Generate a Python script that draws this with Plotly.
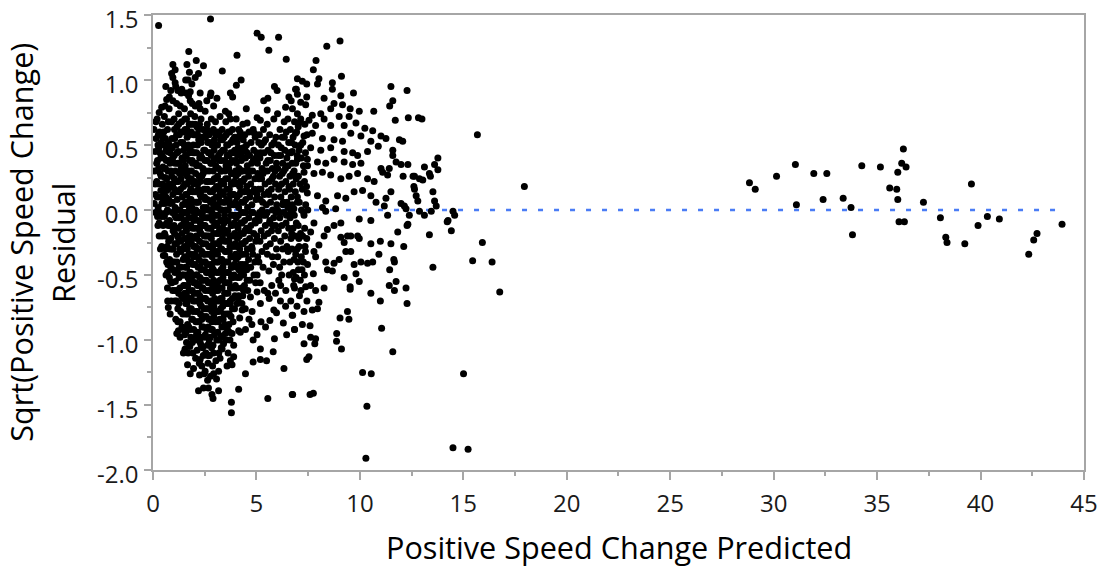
import plotly.graph_objects as go

# ---------------- data: (predicted, residual) pairs ----------------
core_left = [
    (0.05,0.62),(0.10,0.45),(0.08,0.30),(0.12,0.12),(0.06,0.05),(0.15,0.55),(0.20,0.70),(0.22,0.38),(0.18,0.22),(0.25,0.02),
    (0.30,-0.10),(0.28,0.48),(0.32,0.60),(0.35,0.28),(0.38,0.15),(0.40,-0.05),(0.42,0.42),(0.45,0.66),(0.48,0.33),(0.50,0.08),
    (0.44,-0.20),(0.36,-0.30),(0.50,-0.35),(0.30,0.75),(0.14,0.68),(0.26,0.58),(0.40,0.52),(0.47,0.20),(0.33,-0.02),(0.20,0.10),
    (0.10,0.20),(0.27,0.32),(0.38,0.40),(0.49,-0.12),(0.43,0.05),(0.22,-0.05),
    (0.55,0.72),(0.60,0.55),(0.52,0.40),(0.58,0.25),(0.62,0.10),(0.55,-0.05),(0.60,-0.20),(0.57,-0.35),(0.63,-0.50),(0.66,0.85),
    (0.70,0.62),(0.68,0.45),(0.72,0.30),(0.66,0.15),(0.70,0.00),(0.74,-0.12),(0.68,-0.28),(0.72,-0.42),(0.70,-0.60),(0.78,0.78),
    (0.80,0.50),(0.82,0.36),(0.78,0.20),(0.84,0.05),(0.80,-0.08),(0.86,-0.22),(0.80,-0.38),(0.85,-0.55),(0.88,-0.70),(0.90,0.68),
    (0.92,0.55),(0.95,0.40),(0.90,0.26),(0.96,0.12),(0.93,-0.02),(0.97,-0.16),(0.92,-0.30),(0.98,-0.46),(0.95,-0.62),(0.52,0.60),
    (0.64,0.38),(0.76,0.08),(0.88,0.18),(0.54,0.18),(0.66,-0.10),(0.74,0.68),(0.86,0.92),(0.90,1.05),(0.62,0.95),(0.96,0.84),
    (0.58,0.05),(0.82,-0.30),(0.94,-0.40),(0.70,-0.48),(0.60,0.32),
    (1.02,0.70),(1.05,0.55),(1.03,0.42),(1.08,0.30),(1.04,0.16),(1.07,0.02),(1.02,-0.12),(1.06,-0.26),(1.03,-0.40),(1.08,-0.55),
    (1.05,-0.70),(1.10,-0.84),(1.14,0.82),(1.16,0.64),(1.12,0.50),(1.18,0.36),(1.13,0.22),(1.17,0.08),(1.12,-0.06),(1.18,-0.20),
    (1.14,-0.34),(1.19,-0.48),(1.15,-0.62),(1.20,-0.76),(1.24,0.74),(1.27,0.58),(1.22,0.45),(1.28,0.28),(1.25,0.14),(1.30,0.00),
    (1.23,-0.14),(1.29,-0.30),(1.26,-0.44),(1.30,-0.60),(1.25,-0.72),(1.31,-0.86),(1.36,0.90),(1.38,0.68),(1.34,0.52),(1.40,0.40),
    (1.35,0.24),(1.42,0.10),(1.37,-0.04),(1.41,-0.18),(1.35,-0.32),(1.43,-0.50),(1.38,-0.66),(1.44,-0.80),(1.46,0.60),(1.48,0.46),
    (1.47,0.18),(1.49,-0.10),(1.46,-0.38),(1.48,-0.58),(1.47,-0.92),(1.10,0.95),(1.20,0.92),(1.32,0.80),(1.44,0.30),(1.15,-0.95),
    (1.52,0.78),(1.55,0.62),(1.51,0.50),(1.56,0.34),(1.53,0.20),(1.57,0.06),(1.52,-0.08),(1.56,-0.22),(1.53,-0.36),(1.58,-0.50),
    (1.54,-0.64),(1.57,-0.80),(1.53,-0.96),(1.62,0.70),(1.65,0.56),(1.61,0.42),(1.66,0.26),(1.63,0.12),(1.67,-0.02),(1.62,-0.16),
    (1.66,-0.30),(1.63,-0.44),(1.68,-0.58),(1.64,-0.72),(1.67,-0.88),(1.62,-1.02),(1.72,0.88),(1.75,0.66),(1.71,0.50),(1.76,0.38),
    (1.73,0.22),(1.77,0.08),(1.72,-0.06),(1.76,-0.20),(1.73,-0.34),(1.78,-0.48),(1.74,-0.62),(1.77,-0.76),(1.73,-0.90),(1.78,-1.05),
    (1.82,0.74),(1.85,0.60),(1.81,0.46),(1.86,0.30),(1.83,0.16),(1.87,0.02),(1.82,-0.12),(1.86,-0.26),(1.83,-0.40),(1.88,-0.54),
    (1.84,-0.68),(1.87,-0.84),(1.83,-0.98),(1.92,0.66),(1.95,0.50),(1.91,0.36),(1.96,0.20),(1.93,0.06),(1.97,-0.08),(1.92,-0.22),
    (1.96,-0.36),(1.93,-0.50),(1.98,-0.64),(1.94,-0.78),(1.97,-0.92),(1.93,-1.10),(1.60,0.90),(1.58,1.00),(1.90,0.82),(1.70,1.00),
    (1.55,-1.08),
    (2.02,0.72),(2.05,0.58),(2.01,0.44),(2.06,0.28),(2.03,0.14),(2.07,0.00),(2.02,-0.14),(2.06,-0.28),(2.03,-0.42),(2.08,-0.56),
    (2.04,-0.70),(2.07,-0.86),(2.03,-1.00),(2.06,-1.14),(2.12,0.64),(2.15,0.50),(2.11,0.34),(2.16,0.20),(2.13,0.06),(2.17,-0.08),
    (2.12,-0.22),(2.16,-0.36),(2.13,-0.50),(2.18,-0.64),(2.14,-0.78),(2.17,-0.94),(2.13,-1.08),(2.22,0.82),(2.25,0.66),(2.21,0.54),
    (2.26,0.40),(2.23,0.26),(2.27,0.12),(2.22,-0.02),(2.26,-0.16),(2.23,-0.30),(2.28,-0.44),(2.24,-0.58),(2.27,-0.72),(2.23,-0.86),
    (2.28,-1.02),(2.24,-1.18),(2.32,0.70),(2.35,0.56),(2.31,0.42),(2.36,0.26),(2.33,0.10),(2.37,-0.04),(2.32,-0.18),(2.36,-0.32),
    (2.33,-0.46),(2.38,-0.60),(2.34,-0.74),(2.37,-0.90),(2.33,-1.04),(2.36,-1.20),(2.42,0.62),(2.45,0.46),(2.41,0.32),(2.46,0.16),
    (2.43,0.02),(2.47,-0.12),(2.42,-0.26),(2.46,-0.40),(2.43,-0.54),(2.48,-0.68),(2.44,-0.82),(2.47,-0.98),(2.43,-1.12),(2.48,-1.26),
    (2.52,0.76),(2.55,0.60),(2.51,0.46),(2.56,0.30),(2.53,0.16),(2.57,0.02),(2.52,-0.12),(2.56,-0.26),(2.53,-0.40),(2.58,-0.54),
    (2.54,-0.68),(2.57,-0.82),(2.53,-0.96),(2.56,-1.10),(2.52,-1.24),(2.62,0.66),(2.65,0.52),(2.61,0.38),(2.66,0.22),(2.63,0.08),
    (2.67,-0.06),(2.62,-0.20),(2.66,-0.34),(2.63,-0.48),(2.68,-0.62),(2.64,-0.76),(2.67,-0.90),(2.63,-1.04),(2.66,-1.18),(2.72,0.58),
    (2.75,0.44),(2.71,0.30),(2.76,0.14),(2.73,0.00),(2.77,-0.14),(2.72,-0.28),(2.76,-0.42),(2.73,-0.56),(2.78,-0.70),(2.74,-0.84),
    (2.77,-0.98),(2.73,-1.12),(2.78,-1.28),(2.82,0.70),(2.85,0.50),(2.81,0.36),(2.86,0.22),(2.83,0.06),(2.87,-0.08),(2.82,-0.22),
    (2.86,-0.36),(2.83,-0.50),(2.88,-0.64),(2.84,-0.78),(2.87,-0.92),(2.83,-1.06),(2.88,-1.20),(2.92,0.62),(2.95,0.46),(2.91,0.30),
    (2.96,0.16),(2.93,0.02),(2.97,-0.12),(2.92,-0.26),(2.96,-0.40),(2.93,-0.54),(2.98,-0.68),(2.94,-0.82),(2.97,-0.96),(2.93,-1.10),
    (2.60,0.84),(2.80,0.90),
    (3.02,0.68),(3.06,0.50),(3.03,0.34),(3.07,0.18),(3.02,0.04),(3.06,-0.10),(3.03,-0.26),(3.08,-0.40),(3.04,-0.56),(3.07,-0.70),
    (3.03,-0.86),(3.08,-1.00),(3.04,-1.16),(3.07,-1.30),(3.14,0.60),(3.17,0.42),(3.12,0.26),(3.18,0.10),(3.13,-0.04),(3.17,-0.18),
    (3.12,-0.34),(3.18,-0.48),(3.14,-0.62),(3.17,-0.78),(3.13,-0.94),(3.18,-1.10),(3.24,0.72),(3.27,0.54),(3.22,0.38),(3.28,0.22),
    (3.23,0.06),(3.27,-0.08),(3.22,-0.24),(3.28,-0.38),(3.24,-0.54),(3.27,-0.68),(3.23,-0.84),(3.28,-0.98),(3.24,-1.14),(3.34,0.62),
    (3.37,0.46),(3.32,0.30),(3.38,0.14),(3.33,0.00),(3.37,-0.14),(3.32,-0.30),(3.38,-0.44),(3.34,-0.60),(3.37,-0.74),(3.33,-0.90),
    (3.44,0.56),(3.47,0.38),(3.42,0.20),(3.48,0.06),(3.43,-0.10),(3.47,-0.24),(3.42,-0.40),(3.48,-0.56),(3.44,-0.72),(3.47,-0.88),
    (3.52,0.68),(3.56,0.50),(3.53,0.34),(3.57,0.16),(3.52,0.00),(3.56,-0.16),(3.53,-0.32),(3.58,-0.48),(3.54,-0.64),(3.57,-0.80),
    (3.53,-1.00),(3.58,-1.20),(3.64,0.60),(3.67,0.42),(3.62,0.24),(3.68,0.08),(3.63,-0.08),(3.67,-0.24),(3.62,-0.40),(3.68,-0.56),
    (3.64,-0.72),(3.67,-0.88),(3.63,-1.10),(3.74,0.70),(3.77,0.52),(3.72,0.36),(3.78,0.20),(3.73,0.04),(3.77,-0.12),(3.72,-0.28),
    (3.78,-0.44),(3.74,-0.60),(3.77,-0.82),(3.72,-1.00),(3.84,0.62),(3.87,0.44),(3.82,0.28),(3.88,0.12),(3.83,-0.04),(3.87,-0.20),
    (3.82,-0.36),(3.88,-0.52),(3.84,-0.68),(3.87,-0.86),(3.94,0.56),(3.97,0.38),(3.92,0.22),(3.98,0.06),(3.93,-0.10),(3.97,-0.26),
    (3.92,-0.42),(3.98,-0.58),(3.94,-0.76),
]

core_fill = [
    (0.24,0.50),(0.34,0.44),(0.46,0.56),(0.28,0.20),(0.40,0.26),(0.18,0.36),(0.34,0.10),(0.46,-0.04),(0.30,-0.20),(0.42,-0.28),
    (0.12,-0.02),(0.24,-0.12),
    (0.53,0.50),(0.63,0.46),(0.73,0.52),(0.83,0.44),(0.93,0.48),(0.56,0.32),(0.66,0.24),(0.76,0.38),(0.86,0.30),(0.96,0.20),
    (0.53,0.12),(0.63,-0.02),(0.73,0.16),(0.83,-0.12),(0.93,0.06),(0.56,-0.18),(0.66,-0.40),(0.76,-0.24),(0.86,-0.44),(0.96,-0.30),
    (0.61,-0.30),(0.79,-0.52),(0.91,-0.56),(0.71,-0.70),
    (1.04,0.62),(1.14,0.58),(1.24,0.66),(1.34,0.60),(1.44,0.52),(1.06,0.36),(1.16,0.44),(1.26,0.36),(1.36,0.32),(1.46,0.38),
    (1.03,0.24),(1.13,0.14),(1.23,0.22),(1.33,0.16),(1.43,0.04),(1.06,-0.04),(1.16,0.00),(1.26,-0.06),(1.36,-0.12),(1.46,-0.02),
    (1.04,-0.18),(1.14,-0.26),(1.24,-0.22),(1.34,-0.24),(1.44,-0.30),(1.06,-0.48),(1.16,-0.40),(1.26,-0.52),(1.36,-0.44),(1.46,-0.50),
    (1.04,-0.62),(1.14,-0.70),(1.24,-0.64),(1.34,-0.78),(1.44,-0.68),(1.20,-0.86),(1.40,-0.90),
    (1.54,0.70),(1.63,0.62),(1.74,0.58),(1.81,0.66),(1.96,0.58),(1.57,0.42),(1.69,0.48),(1.77,0.44),(1.89,0.38),(1.94,0.44),
    (1.51,0.28),(1.64,0.20),(1.71,0.30),(1.85,0.24),(1.92,0.14),(1.58,0.12),(1.66,0.04),(1.79,0.14),(1.84,0.08),(1.99,-0.02),
    (1.55,-0.02),(1.61,-0.10),(1.75,0.00),(1.88,-0.06),(1.91,-0.14),(1.59,-0.14),(1.68,-0.24),(1.71,-0.12),(1.83,-0.20),(1.97,-0.28),
    (1.52,-0.28),(1.65,-0.38),(1.78,-0.26),(1.86,-0.34),(1.93,-0.42),(1.56,-0.44),(1.69,-0.52),(1.74,-0.40),(1.81,-0.48),(1.98,-0.56),
    (1.53,-0.58),(1.62,-0.66),(1.76,-0.54),(1.89,-0.62),(1.95,-0.70),(1.58,-0.72),(1.67,-0.80),(1.72,-0.68),(1.85,-0.76),(1.91,-0.84),
    (1.60,-0.94),(1.80,-0.92),(1.70,-1.10),(1.90,-1.02),
    (2.04,0.66),(2.15,0.58),(2.21,0.62),(2.33,0.52),(2.46,0.56),(2.07,0.36),(2.11,0.44),(2.24,0.34),(2.37,0.40),(2.42,0.28),
    (2.02,0.22),(2.19,0.16),(2.28,0.22),(2.31,0.14),(2.49,0.10),(2.06,0.06),(2.14,-0.02),(2.20,0.06),(2.39,-0.02),(2.44,-0.06),
    (2.01,-0.06),(2.17,-0.14),(2.29,-0.10),(2.35,-0.12),(2.48,-0.20),(2.09,-0.20),(2.12,-0.30),(2.25,-0.24),(2.40,-0.26),(2.45,-0.34),
    (2.03,-0.34),(2.18,-0.44),(2.22,-0.38),(2.34,-0.40),(2.49,-0.46),(2.08,-0.50),(2.14,-0.58),(2.27,-0.52),(2.38,-0.54),(2.41,-0.60),
    (2.01,-0.64),(2.19,-0.70),(2.26,-0.66),(2.32,-0.68),(2.47,-0.76),(2.09,-0.78),(2.15,-0.86),(2.29,-0.80),(2.36,-0.84),(2.44,-0.90),
    (2.10,-0.96),(2.20,-1.00),(2.31,-0.98),(2.40,-1.06),
    (2.54,0.56),(2.61,0.62),(2.74,0.52),(2.86,0.60),(2.97,0.54),(2.51,0.38),(2.68,0.44),(2.79,0.36),(2.82,0.42),(2.94,0.38),
    (2.57,0.22),(2.63,0.16),(2.71,0.22),(2.88,0.14),(2.96,0.24),(2.52,0.08),(2.66,0.00),(2.78,0.06),(2.84,-0.02),(2.91,0.08),
    (2.59,-0.06),(2.64,-0.14),(2.76,-0.06),(2.81,-0.14),(2.98,-0.04),(2.55,-0.20),(2.69,-0.28),(2.72,-0.20),(2.89,-0.30),(2.93,-0.18),
    (2.51,-0.34),(2.62,-0.42),(2.77,-0.34),(2.85,-0.44),(2.99,-0.32),(2.58,-0.48),(2.67,-0.56),(2.73,-0.48),(2.88,-0.58),(2.92,-0.46),
    (2.53,-0.62),(2.64,-0.70),(2.79,-0.62),(2.82,-0.72),(2.97,-0.60),(2.56,-0.76),(2.69,-0.84),(2.75,-0.76),(2.86,-0.86),(2.94,-0.74),
    (2.60,-0.92),(2.71,-1.00),(2.80,-0.92),(2.90,-1.04),(2.65,-1.12),
    (3.04,0.58),(3.12,0.50),(3.21,0.58),(3.36,0.54),(3.45,0.46),(3.09,0.40),(3.16,0.32),(3.26,0.44),(3.31,0.38),(3.49,0.30),
    (3.01,0.24),(3.19,0.18),(3.29,0.30),(3.35,0.22),(3.41,0.12),(3.06,0.10),(3.14,0.02),(3.24,0.14),(3.39,0.06),(3.46,-0.04),
    (3.03,-0.04),(3.11,-0.12),(3.28,0.00),(3.31,-0.08),(3.44,-0.18),(3.08,-0.18),(3.19,-0.26),(3.21,-0.16),(3.36,-0.22),(3.49,-0.32),
    (3.02,-0.32),(3.15,-0.40),(3.26,-0.30),(3.33,-0.38),(3.41,-0.48),(3.07,-0.48),(3.12,-0.56),(3.29,-0.46),(3.38,-0.52),(3.46,-0.64),
    (3.04,-0.62),(3.18,-0.70),(3.23,-0.60),(3.34,-0.68),(3.43,-0.80),(3.09,-0.78),(3.16,-0.86),(3.27,-0.76),(3.39,-0.84),(3.20,-1.00),
    (3.30,-1.06),
    (3.54,0.58),(3.62,0.50),(3.71,0.60),(3.86,0.54),(3.95,0.46),(3.59,0.42),(3.66,0.32),(3.76,0.44),(3.81,0.38),(3.99,0.30),
    (3.51,0.24),(3.69,0.16),(3.79,0.28),(3.85,0.20),(3.91,0.12),(3.56,0.08),(3.64,0.00),(3.74,0.12),(3.89,0.04),(3.96,-0.04),
    (3.53,-0.08),(3.61,-0.16),(3.78,-0.04),(3.81,-0.12),(3.94,-0.18),(3.58,-0.24),(3.69,-0.32),(3.71,-0.20),(3.86,-0.28),(3.99,-0.34),
    (3.52,-0.40),(3.65,-0.48),(3.76,-0.36),(3.83,-0.44),(3.91,-0.50),(3.57,-0.56),(3.62,-0.64),(3.79,-0.52),(3.88,-0.60),(3.96,-0.66),
    (3.54,-0.72),(3.68,-0.80),(3.73,-0.70),(3.84,-0.76),(3.60,-0.92),(3.70,-0.94),
    (4.04,0.56),(4.12,0.48),(4.21,0.60),(4.36,0.54),(4.45,0.46),(4.09,0.42),(4.16,0.32),(4.26,0.44),(4.31,0.40),(4.49,0.30),
    (4.01,0.26),(4.19,0.18),(4.29,0.30),(4.35,0.22),(4.41,0.14),(4.06,0.10),(4.14,0.02),(4.24,0.14),(4.39,0.06),(4.46,-0.02),
    (4.03,-0.06),(4.11,-0.14),(4.28,-0.02),(4.31,-0.10),(4.44,-0.16),(4.08,-0.22),(4.19,-0.30),(4.21,-0.18),(4.36,-0.26),(4.49,-0.34),
    (4.02,-0.38),(4.15,-0.46),(4.26,-0.34),(4.33,-0.42),(4.41,-0.46),(4.07,-0.52),(4.24,-0.50),(4.38,-0.62),(4.12,-0.68),(4.30,-0.72),
    (4.55,0.44),(4.70,0.30),(4.85,0.38),(4.60,0.14),(4.75,-0.02),(4.90,0.16),(4.65,-0.16),(4.80,-0.30),(4.95,-0.10),(5.05,0.36),
    (5.20,0.44),(5.35,0.52),(5.10,0.16),(5.25,0.24),(5.40,0.30),(5.15,-0.02),(5.30,0.06),(5.45,-0.04),(5.55,0.38),(5.70,0.44),
    (5.85,0.52),(5.60,0.12),(5.75,0.24),(5.90,0.30),(5.65,-0.08),(5.80,-0.12),(5.95,-0.02),(6.05,0.42),(6.20,0.48),(6.35,0.56),
    (6.10,0.18),(6.25,0.28),(6.40,0.32),(6.15,-0.02),(6.30,0.06),(6.45,-0.04),(6.55,0.44),(6.70,0.52),(6.60,0.16),(6.75,0.28),
    (6.65,-0.02),(6.90,0.36),
]

core_mid = [
    (4.02,0.70),(4.06,0.52),(4.03,0.36),(4.07,0.20),(4.02,0.04),(4.06,-0.12),(4.03,-0.28),(4.08,-0.44),(4.04,-0.60),(4.07,-0.72),
    (4.14,0.62),(4.17,0.44),(4.12,0.28),(4.18,0.12),(4.13,-0.04),(4.17,-0.20),(4.12,-0.36),(4.18,-0.52),(4.14,-0.66),(4.24,0.56),
    (4.27,0.38),(4.22,0.22),(4.28,0.06),(4.23,-0.10),(4.27,-0.26),(4.22,-0.42),(4.28,-0.60),(4.34,0.66),(4.37,0.48),(4.32,0.30),
    (4.38,0.14),(4.33,-0.02),(4.37,-0.18),(4.32,-0.34),(4.38,-0.50),(4.34,-0.66),(4.44,0.58),(4.47,0.40),(4.42,0.24),(4.48,0.08),
    (4.43,-0.08),(4.47,-0.24),(4.42,-0.58),(4.46,-0.76),
    (4.52,0.50),(4.56,0.34),(4.53,0.18),(4.57,0.02),(4.52,-0.14),(4.56,-0.30),(4.53,-0.46),(4.58,-0.62),(4.64,0.60),(4.67,0.42),
    (4.62,0.26),(4.68,0.10),(4.63,-0.06),(4.67,-0.22),(4.62,-0.38),(4.68,-0.54),(4.64,-0.84),(4.74,0.52),(4.77,0.36),(4.72,0.20),
    (4.78,0.04),(4.73,-0.12),(4.77,-0.28),(4.72,-0.44),(4.78,-0.88),(4.84,0.62),(4.87,0.46),(4.82,0.30),(4.88,0.14),(4.83,-0.02),
    (4.87,-0.18),(4.82,-0.34),(4.88,-0.50),(4.94,0.56),(4.97,0.40),(4.92,0.24),(4.98,0.08),(4.93,-0.08),(4.97,-0.24),(4.92,-0.40),
    (4.96,-0.56),
    (5.02,0.44),(5.06,0.28),(5.03,0.12),(5.07,-0.04),(5.02,-0.20),(5.06,-0.36),(5.03,-0.50),(5.14,0.58),(5.17,0.40),(5.12,0.24),
    (5.18,0.08),(5.13,-0.08),(5.17,-0.24),(5.12,-0.40),(5.18,-0.56),(5.24,0.50),(5.27,0.32),(5.22,0.16),(5.28,0.00),(5.23,-0.16),
    (5.27,-0.32),(5.22,-0.86),(5.34,0.62),(5.37,0.44),(5.32,0.28),(5.38,0.12),(5.33,-0.04),(5.37,-0.20),(5.32,-0.44),(5.38,-0.62),
    (5.44,0.54),(5.47,0.36),(5.42,0.20),(5.48,0.04),(5.43,-0.12),(5.47,-0.28),(5.44,-0.90),
    (5.52,0.66),(5.56,0.46),(5.53,0.30),(5.57,0.14),(5.52,-0.02),(5.56,-0.18),(5.53,-0.34),(5.64,0.58),(5.67,0.38),(5.62,0.22),
    (5.68,0.06),(5.63,-0.10),(5.67,-0.26),(5.62,-0.68),(5.74,0.50),(5.77,0.32),(5.72,0.16),(5.78,0.00),(5.73,-0.16),(5.77,-0.36),
    (5.74,-0.58),(5.84,0.70),(5.87,0.42),(5.82,0.26),(5.88,0.10),(5.83,-0.06),(5.87,-0.22),(5.82,-0.42),(5.94,0.56),(5.97,0.36),
    (5.92,0.20),(5.98,0.04),(5.93,-0.12),(5.97,-0.30),(5.92,-0.64),
    (6.02,0.74),(6.06,0.50),(6.03,0.32),(6.07,0.16),(6.02,0.00),(6.06,-0.16),(6.03,-0.36),(6.14,0.62),(6.17,0.42),(6.12,0.26),
    (6.18,0.10),(6.13,-0.06),(6.17,-0.24),(6.12,-0.44),(6.16,-0.70),(6.24,0.56),(6.27,0.36),(6.22,0.20),(6.28,0.04),(6.23,-0.12),
    (6.27,-0.30),(6.22,-0.50),(6.34,0.68),(6.37,0.46),(6.32,0.30),(6.38,0.14),(6.33,-0.02),(6.37,-0.20),(6.32,-0.40),(6.44,0.60),
    (6.47,0.40),(6.42,0.22),(6.48,0.06),(6.43,-0.10),(6.47,-0.28),(6.42,-0.62),(6.46,-0.96),
    (6.52,0.70),(6.56,0.52),(6.53,0.34),(6.57,0.18),(6.52,0.02),(6.56,-0.14),(6.53,-0.32),(6.58,-0.50),(6.64,0.62),(6.67,0.44),
    (6.62,0.26),(6.68,0.10),(6.63,-0.06),(6.67,-0.22),(6.62,-0.40),(6.66,-0.70),(6.74,0.78),(6.77,0.56),(6.72,0.36),(6.78,0.20),
    (6.73,0.04),(6.77,-0.14),(6.72,-0.30),(6.78,-0.48),(6.84,0.68),(6.87,0.50),(6.82,0.30),(6.88,0.14),(6.83,-0.04),(6.87,-0.20),
    (6.82,-0.38),(6.94,0.60),(6.97,0.42),(6.92,0.24),(6.98,0.06),(6.93,-0.10),(6.97,-0.30),(6.92,-0.52),(6.96,-0.74),
    (7.02,0.64),(7.06,0.46),(7.03,0.26),(7.07,0.06),(7.02,-0.12),(7.06,-0.28),(7.03,-0.46),(7.08,-0.66),(7.14,0.70),(7.17,0.40),
    (7.12,0.20),(7.18,0.00),(7.13,-0.18),(7.17,-0.36),(7.12,-0.54),(7.24,0.52),(7.27,0.34),(7.22,0.16),(7.28,-0.02),(7.23,-0.20),
    (7.27,-0.40),(7.22,-0.88),(7.34,0.66),(7.37,0.44),(7.32,0.22),(7.38,0.04),(7.33,-0.14),(7.37,-0.32),(7.32,-0.50),(7.44,0.58),
    (7.47,0.34),(7.42,0.18),(7.48,0.00),(7.43,-0.22),(7.47,-0.42),(7.44,-0.70),
]

upper_fringe = [
    (0.27,1.42),(2.78,1.47),(5.03,1.36),(5.23,1.33),(6.07,1.33),(5.60,1.23),(6.44,1.16),(1.73,1.22),(4.06,1.19),(0.96,1.12),
    (1.64,1.12),(2.09,1.15),(2.44,1.11),(1.07,1.08),(1.76,1.06),(2.20,1.05),(3.35,1.07),(0.96,1.02),(1.07,0.98),(1.39,0.93),
    (1.88,0.97),(2.04,1.02),(4.26,1.00),(4.03,0.96),(3.74,0.90),(3.85,0.87),(5.87,0.95),(6.00,0.92),(6.98,1.01),(6.93,0.93),
    (1.80,0.91),(2.28,0.90),(0.79,0.87),(0.58,0.80),(0.42,0.79),(2.77,0.88),(3.09,0.86),(5.55,0.86),(5.35,0.84),(6.57,0.87),
    (6.68,0.84),(1.80,0.84),(2.04,0.80),(2.28,0.78),(2.93,0.80),(4.51,0.78),(5.52,0.77),(6.41,0.79),(3.50,0.76),(3.66,0.74),
    (5.03,0.71),(5.19,0.69),(4.90,0.59),(4.55,0.67),(5.11,0.52),
]

lower_fringe = [
    (3.79,-1.56),(3.79,-1.48),(5.55,-1.45),(6.73,-1.42),(4.14,-1.38),(2.90,-1.45),(3.17,-1.39),(2.85,-1.42),(2.68,-1.37),(2.44,-1.37),
    (2.20,-1.39),(2.64,-1.31),(1.80,-1.26),(2.25,-1.27),(1.67,-1.19),(1.96,-1.22),(3.17,-1.24),(2.93,-1.26),(4.47,-1.26),(6.33,-1.22),
    (3.82,-1.19),(3.74,-1.16),(2.28,-1.15),(1.47,-1.10),(1.55,-1.07),(4.84,-1.17),(5.19,-1.15),(5.49,-1.16),(5.81,-1.09),(5.19,-1.07),
    (5.87,-0.99),(5.03,-0.96),(4.84,-1.00),(3.90,-1.04),(3.90,-1.13),(3.34,-1.07),(3.41,-1.03),(3.82,-0.95),(4.14,-0.93),(4.47,-0.92),
    (4.22,-0.94),(3.50,-0.95),(3.34,-0.97),(1.31,-0.98),(1.23,-0.93),(0.83,-0.80),(0.74,-0.75),(4.19,-0.83),(4.31,-0.77),(4.79,-0.78),
    (5.19,-0.72),(5.65,-0.85),(5.84,-0.77),(5.97,-0.79),(6.30,-0.87),(6.41,-0.74),(6.73,-0.81),(6.84,-0.92),(5.55,-0.64),(5.60,-0.47),
    (6.08,-0.54),(6.17,-0.58),(6.84,-0.53),(6.84,-0.60),(4.47,-0.42),(4.55,-0.54),(3.74,-0.72),(5.03,-0.63),(4.71,-0.67),
]

mid_upper = [
    (9.04,1.30),(8.40,1.26),(7.88,1.15),(7.75,1.08),(9.11,1.03),(7.22,0.99),(7.43,0.97),(8.02,1.01),(7.95,0.97),(8.67,0.98),
    (8.67,0.93),(6.89,0.93),(9.69,0.90),(9.08,0.88),(8.27,0.86),(7.43,0.87),(6.98,0.89),(9.16,0.81),(8.75,0.82),(7.38,0.81),
    (7.14,0.83),(9.53,0.78),(9.97,0.76),(10.67,0.76),(8.59,0.78),(7.70,0.73),(6.98,0.74),(8.11,0.74),(9.48,0.72),(9.00,0.72),
    (8.27,0.70),(7.54,0.69),(9.81,0.67),(10.24,0.63),(9.24,0.65),(8.59,0.65),(7.86,0.65),(7.05,0.67),(10.62,0.61),(11.02,0.57),
    (11.26,0.55),(10.05,0.57),(9.56,0.59),(9.16,0.53),(8.75,0.54),(8.19,0.55),(7.70,0.59),(7.30,0.57),(6.89,0.59),(10.53,0.53),
    (10.89,0.49),(10.37,0.45),(9.89,0.42),(9.65,0.44),(9.24,0.45),(8.59,0.48),(8.11,0.46),(7.62,0.48),(7.14,0.50),(6.73,0.45),
    (11.02,0.32),(11.10,0.29),(10.05,0.36),(9.65,0.35),(9.24,0.37),(8.75,0.39),(8.35,0.36),(7.95,0.37),(7.46,0.39),(6.98,0.39),
    (10.69,0.22),(10.37,0.24),(9.89,0.28),(9.48,0.26),(9.08,0.24),(8.59,0.27),(8.19,0.29),(7.78,0.28),(7.30,0.29),(6.81,0.27),
    (10.78,0.06),(10.53,0.11),(10.13,0.15),(9.72,0.14),(9.32,0.09),(8.92,0.11),(8.35,0.07),(7.95,0.11),(7.46,0.13),(6.98,0.10),
    (8.19,0.02),(8.35,-0.01),(8.83,0.01),(9.97,-0.07),(10.53,-0.08),(6.81,0.01),(7.30,-0.04),(7.78,-0.10),(8.43,-0.15),(8.75,-0.12),
    (9.08,-0.10),(7.62,-0.17),(8.27,-0.20),(9.40,-0.20),(9.89,-0.20),
]

mid_lower = [
    (10.53,-0.26),(10.99,-0.24),(10.92,-0.34),(9.56,-0.20),(9.97,-0.22),(9.08,-0.21),(9.24,-0.25),(8.02,-0.27),(7.78,-0.32),(7.86,-0.36),
    (9.32,-0.32),(9.56,-0.32),(8.35,-0.40),(8.75,-0.41),(9.00,-0.38),(9.72,-0.42),(10.05,-0.40),(10.37,-0.41),(10.62,-0.40),(8.43,-0.46),
    (8.67,-0.47),(9.81,-0.49),(9.24,-0.52),(9.97,-0.55),(9.53,-0.59),(9.53,-0.61),(10.53,-0.64),(10.99,-0.70),(7.75,-0.49),(7.38,-0.59),
    (7.62,-0.58),(7.86,-0.62),(8.27,-0.60),(8.02,-0.71),(7.95,-0.76),(7.70,-0.77),(7.30,-0.78),(6.75,-0.81),(6.84,-0.92),(7.59,-0.89),
    (9.04,-0.83),(9.40,-0.78),(9.47,-0.84),(8.88,-0.95),(8.87,-1.01),(9.11,-1.07),(7.62,-0.98),(7.86,-0.99),(7.30,-1.03),(7.82,-1.03),
    (7.43,-1.15),(7.54,-1.13),(10.13,-1.25),(10.55,-1.26),(6.75,-1.42),(7.59,-1.42),(7.75,-1.41),(10.34,-1.51),(10.29,-1.91),
    (6.70,-0.18),(6.90,-0.34),(7.05,-0.22),(7.20,-0.46),(6.80,-0.58),(7.00,-0.40),(7.35,-0.28),(7.15,-0.62),
]

tail = [
    (12.34,0.71),(12.83,0.71),(13.00,0.70),(11.71,0.69),(11.91,0.54),(12.07,0.53),(11.59,0.46),(11.59,0.42),(11.59,0.84),(11.44,0.80),
    (11.50,0.95),(12.28,0.92),(15.68,0.58),(13.77,0.40),(13.61,0.35),(13.12,0.33),(12.32,0.35),(11.99,0.35),(11.75,0.37),(13.36,0.28),
    (13.77,0.31),(12.64,0.26),(12.88,0.24),(13.04,0.23),(12.09,0.26),(12.57,0.26),(13.41,0.26),(11.42,0.32),(11.34,0.27),(11.50,0.14),
    (12.64,0.16),(12.72,0.11),(12.80,0.07),(13.53,0.14),(13.61,0.07),(13.69,0.03),(11.99,0.05),(12.23,0.01),(12.15,0.03),(12.61,0.18),
    (17.95,0.18),(12.39,-0.04),(12.88,-0.01),(13.12,-0.04),(13.45,-0.01),(14.26,-0.08),(14.50,-0.01),(14.58,-0.04),(12.32,-0.11),(12.28,-0.12),
    (14.22,-0.09),(14.42,-0.16),(13.36,-0.19),(11.83,-0.17),(11.50,-0.26),(12.12,-0.28),(15.92,-0.25),(13.53,-0.44),(15.45,-0.39),(16.39,-0.40),
    (11.64,-0.38),(11.67,-0.40),(11.44,-0.46),(11.75,-0.55),(11.42,-0.58),(11.67,-0.62),(12.23,-0.60),(12.28,-0.72),(16.76,-0.63),(11.05,-0.91),
    (11.59,-1.09),(15.01,-1.26),(14.50,-1.83),(15.23,-1.84),(11.34,-0.04),(11.26,0.09),(11.18,0.03),
]

far_cluster = [
    (28.83,0.21),(29.11,0.16),(30.14,0.26),(31.05,0.35),(31.10,0.04),(31.94,0.28),(32.57,0.28),(32.39,0.08),(33.36,0.09),(33.74,0.02),
    (33.81,-0.19),(34.26,0.34),(35.16,0.33),(35.61,0.17),(35.95,0.16),(36.00,0.08),(36.06,-0.09),(36.32,-0.09),(36.00,0.29),(36.19,0.36),
    (36.27,0.47),(36.40,0.33),(37.24,0.06),(38.06,-0.06),(38.32,-0.21),(38.38,-0.25),(39.24,-0.26),(39.56,0.20),(39.88,-0.12),(40.33,-0.05),
    (40.91,-0.07),(42.33,-0.34),(42.57,-0.23),(42.73,-0.18),(43.94,-0.11),
]

x_ticks = [0, 5, 10, 15, 20, 25, 30, 35, 40, 45]
y_ticks = [1.5, 1.0, 0.5, 0.0, -0.5, -1.0, -1.5, -2.0]

x_title = "Positive Speed Change Predicted"
y_title_line1 = "Sqrt(Positive Speed Change)"
y_title_line2 = "Residual"

# ---------------- build ----------------
points = (core_left + core_fill + core_mid + upper_fringe + lower_fringe
          + mid_upper + mid_lower + tail + far_cluster)
pred = [p[0] for p in points]
resid = [p[1] for p in points]

FONT = "Open Sans"
AXIS_GREY = "#a6a6a6"

fig = go.Figure()
fig.add_trace(go.Scatter(
    x=[min(pred), max(pred)], y=[0, 0], mode="lines",
    line=dict(color="#4a7cf5", width=2.5, dash="5px,11px"),
    hoverinfo="skip", showlegend=False,
))
fig.add_trace(go.Scatter(
    x=pred, y=resid, mode="markers",
    marker=dict(color="black", size=7, line=dict(width=0)),
    showlegend=False,
))

# the page body adds an 8px offset, so the figure is 8px smaller on each far side
fig.update_layout(
    width=1098, height=561,
    margin=dict(l=144.5, r=22, t=7, b=98.5),
    paper_bgcolor="white", plot_bgcolor="white",
    font=dict(family=FONT, color="#1a1a1a"),
    showlegend=False,
)
fig.update_xaxes(
    range=[0, 45.001], tickvals=x_ticks, ticktext=[str(v) for v in x_ticks],
    ticks="outside", ticklen=8, tickwidth=1.5, tickcolor=AXIS_GREY,
    minor=dict(dtick=2.5, ticks="outside", ticklen=4, tickwidth=1.5, tickcolor=AXIS_GREY, showgrid=False),
    showline=True, linecolor=AXIS_GREY, linewidth=1.5, mirror=True,
    showgrid=False, zeroline=False, automargin=False,
    tickfont=dict(family=FONT, size=24, color="#1a1a1a"),
    ticklabelstandoff=3, ticklabeloverflow="allow",
)
fig.update_yaxes(
    range=[-2.0005, 1.5005], tickvals=y_ticks, ticktext=[f"{v:.1f}" for v in y_ticks],
    ticks="outside", ticklen=7, tickwidth=1.5, tickcolor=AXIS_GREY,
    minor=dict(dtick=0.25, ticks="outside", ticklen=4, tickwidth=1.5, tickcolor=AXIS_GREY, showgrid=False),
    showline=True, linecolor=AXIS_GREY, linewidth=1.5, mirror=True,
    showgrid=False, zeroline=False, automargin=False,
    tickfont=dict(family=FONT, size=24, color="#1a1a1a"),
    ticklabelstandoff=1, ticklabeloverflow="allow", ticklabelshift=5,
)
fig.add_annotation(
    text=x_title, xref="paper", yref="paper", x=0.5003, y=-0.17,
    xanchor="center", yanchor="middle", showarrow=False,
    font=dict(family=FONT, size=30.6, color="black"),
)
fig.add_annotation(
    text=y_title_line1, xref="paper", yref="paper", x=-0.1425, y=0.5,
    xanchor="center", yanchor="middle", showarrow=False, textangle=-90,
    font=dict(family=FONT, size=30.6, color="black"),
)
fig.add_annotation(
    text=y_title_line2, xref="paper", yref="paper", x=-0.0972, y=0.5,
    xanchor="center", yanchor="middle", showarrow=False, textangle=-90,
    font=dict(family=FONT, size=30.6, color="black"),
)

fig.write_html("out.html")
